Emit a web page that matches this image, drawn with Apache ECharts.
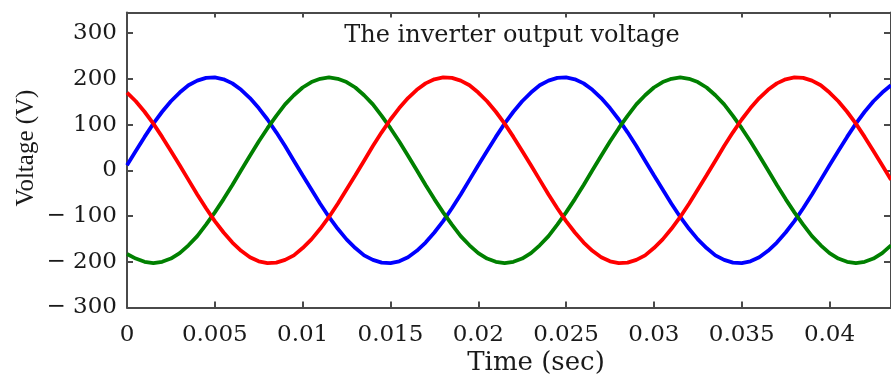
<!DOCTYPE html>
<html>
<head>
<meta charset="utf-8">
<script src="https://cdn.jsdelivr.net/npm/echarts@6/dist/echarts.min.js"></script>
<style>
  html, body { margin: 0; padding: 0; background: #fff; }
  #chart { width: 891px; height: 380px; }
</style>
</head>
<body>
<div id="chart"></div>
<script>
// Sample instants (s), 0.5 ms apart
const times = [
  0, 0.0005, 0.001, 0.0015, 0.002, 0.0025, 0.003, 0.0035, 0.004, 0.0045,
  0.005, 0.0055, 0.006, 0.0065, 0.007, 0.0075, 0.008, 0.0085, 0.009, 0.0095,
  0.010, 0.0105, 0.011, 0.0115, 0.012, 0.0125, 0.013, 0.0135, 0.014, 0.0145,
  0.015, 0.0155, 0.016, 0.0165, 0.017, 0.0175, 0.018, 0.0185, 0.019, 0.0195,
  0.020, 0.0205, 0.021, 0.0215, 0.022, 0.0225, 0.023, 0.0235, 0.024, 0.0245,
  0.025, 0.0255, 0.026, 0.0265, 0.027, 0.0275, 0.028, 0.0285, 0.029, 0.0295,
  0.030, 0.0305, 0.031, 0.0315, 0.032, 0.0325, 0.033, 0.0335, 0.034, 0.0345,
  0.035, 0.0355, 0.036, 0.0365, 0.037, 0.0375, 0.038, 0.0385, 0.039, 0.0395,
  0.040, 0.0405, 0.041, 0.0415, 0.042, 0.0425, 0.043, 0.0435
];

// Phase voltages (V)
const phaseBlue = [
  11, 42, 73, 102, 128, 151, 170, 186, 196, 202,
  203, 199, 190, 176, 158, 136, 111, 83, 53, 21,
  -11, -42, -73, -102, -128, -151, -170, -186, -196, -202,
  -203, -199, -190, -176, -158, -136, -111, -83, -53, -21,
  11, 42, 73, 102, 128, 151, 170, 186, 196, 202,
  203, 199, 190, 176, 158, 136, 111, 83, 53, 21,
  -11, -42, -73, -102, -128, -151, -170, -186, -196, -202,
  -203, -199, -190, -176, -158, -136, -111, -83, -53, -21,
  11, 42, 73, 102, 128, 151, 170, 186
];
const phaseRed = [
  170, 151, 128, 102, 73, 42, 11, -21, -53, -83,
  -111, -136, -158, -176, -190, -199, -203, -202, -196, -186,
  -170, -151, -128, -102, -73, -42, -11, 21, 53, 83,
  111, 136, 158, 176, 190, 199, 203, 202, 196, 186,
  170, 151, 128, 102, 73, 42, 11, -21, -53, -83,
  -111, -136, -158, -176, -190, -199, -203, -202, -196, -186,
  -170, -151, -128, -102, -73, -42, -11, 21, 53, 83,
  111, 136, 158, 176, 190, 199, 203, 202, 196, 186,
  170, 151, 128, 102, 73, 42, 11, -21
];
const phaseGreen = [
  -183, -193, -200, -203, -200, -193, -181, -164, -144, -119,
  -92, -63, -32, 0, 32, 63, 92, 119, 144, 164,
  181, 193, 200, 203, 200, 193, 181, 164, 144, 119,
  92, 63, 32, 0, -32, -63, -92, -119, -144, -164,
  -181, -193, -200, -203, -200, -193, -181, -164, -144, -119,
  -92, -63, -32, 0, 32, 63, 92, 119, 144, 164,
  181, 193, 200, 203, 200, 193, 181, 164, 144, 119,
  92, 63, 32, 0, -32, -63, -92, -119, -144, -164,
  -181, -193, -200, -203, -200, -193, -181, -164
];

// Axis ticks
const xTicks = [0, 0.005, 0.01, 0.015, 0.02, 0.025, 0.03, 0.035, 0.04];
const yTicks = [-300, -200, -100, 0, 100, 200, 300];

const pairs = (vals) => times.map((t, i) => [t, vals[i]]);

const axisColor = '#4a4a4a';
const labelFont = { fontFamily: 'DejaVu Serif', fontSize: 23, color: '#1a1a1a' };

const xBase = {
  type: 'value', min: 0, max: 0.0435,
  splitLine: { show: false },
  axisLine: { show: true, onZero: false, lineStyle: { color: axisColor, width: 2 } }
};
const yBase = {
  type: 'value', min: -300, max: 345,
  splitLine: { show: false },
  axisLine: { show: true, onZero: false, lineStyle: { color: axisColor, width: 2 } }
};

const chart = echarts.init(document.getElementById('chart'), null, { renderer: 'canvas' });

chart.setOption({
  animation: false,
  backgroundColor: '#ffffff',
  grid: { left: 127, right: 0, top: 12.5, bottom: 72.5, containLabel: false },
  xAxis: [
    Object.assign({}, xBase, {
      position: 'bottom',
      axisTick: { show: true, inside: true, length: 6, customValues: xTicks, lineStyle: { color: axisColor, width: 2 } },
      axisLabel: Object.assign({ show: true, margin: 16, customValues: xTicks, formatter: (v) => String(v) }, labelFont)
    }),
    Object.assign({}, xBase, {
      position: 'top',
      axisTick: { show: true, inside: true, length: 5, customValues: xTicks, lineStyle: { color: axisColor, width: 2 } },
      axisLabel: { show: false }
    })
  ],
  yAxis: [
    Object.assign({}, yBase, {
      position: 'left',
      axisTick: { show: true, inside: true, length: 6, customValues: yTicks, lineStyle: { color: axisColor, width: 2 } },
      axisLabel: Object.assign({
        show: true, margin: 10, customValues: yTicks,
        formatter: (v) => (v < 0 ? '\u2212 ' + (-v) : String(v))
      }, labelFont)
    }),
    Object.assign({}, yBase, {
      position: 'right',
      axisTick: { show: true, inside: true, length: 7, customValues: yTicks, lineStyle: { color: axisColor, width: 2 } },
      axisLabel: { show: false }
    })
  ],
  series: [
    { name: 'Phase A', type: 'line', xAxisIndex: 0, yAxisIndex: 0, data: pairs(phaseBlue),
      showSymbol: false, lineStyle: { color: '#0000ff', width: 3.8 } },
    { name: 'Phase B', type: 'line', xAxisIndex: 0, yAxisIndex: 0, data: pairs(phaseGreen),
      showSymbol: false, lineStyle: { color: '#008000', width: 3.8 } },
    { name: 'Phase C', type: 'line', xAxisIndex: 0, yAxisIndex: 0, data: pairs(phaseRed),
      showSymbol: false, lineStyle: { color: '#ff0000', width: 3.8 } }
  ],
  graphic: [
    { type: 'text', x: 512, y: 36,
      style: { text: 'The inverter output voltage', font: '24px "DejaVu Serif"', fill: '#1a1a1a',
               textAlign: 'center', textVerticalAlign: 'middle' } },
    { type: 'text', x: 536, y: 363,
      style: { text: 'Time (sec)', font: '26px "DejaVu Serif"', fill: '#1a1a1a',
               textAlign: 'center', textVerticalAlign: 'middle' } },
    { type: 'text', x: 26, y: 148, rotation: Math.PI / 2,
      style: { text: 'Voltage (V)', font: '25px "Liberation Serif"', fill: '#1a1a1a',
               textAlign: 'center', textVerticalAlign: 'middle' } }
  ]
});
</script>
</body>
</html>
